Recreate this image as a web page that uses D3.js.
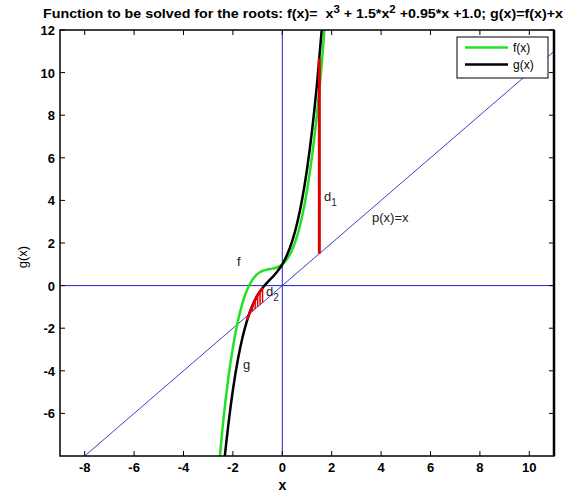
<!DOCTYPE html>
<html>
<head>
<meta charset="utf-8">
<script src="https://cdn.jsdelivr.net/npm/d3@7/dist/d3.min.js"></script>
<style>
  html, body { margin: 0; padding: 0; background: #fff; }
  svg { display: block; font-family: "Liberation Sans", Arial, sans-serif; }
</style>
</head>
<body>
<svg id="chart" width="568" height="492"></svg>
<script>
// Sample points of f(x) = x^3 + 1.5x^2 + 0.95x + 1 and g(x) = f(x) + x
const xSamples = [-2.6, -2.4, -2.2, -2.0, -1.8, -1.6, -1.4, -1.2, -1.0, -0.8, -0.6, -0.4, -0.2,
                  0, 0.2, 0.4, 0.6, 0.8, 1.0, 1.2, 1.4, 1.6, 1.8];
const fValues = [-8.906, -6.464, -4.478, -2.9, -1.682, -0.776, -0.134, 0.292, 0.55, 0.688, 0.754, 0.796, 0.862,
                 1.0, 1.258, 1.684, 2.326, 3.232, 4.45, 6.028, 8.014, 10.456, 13.402];
const gValues = [-11.506, -8.864, -6.678, -4.9, -3.482, -2.376, -1.534, -0.908, -0.45, -0.112, 0.154, 0.396, 0.662,
                 1.0, 1.458, 2.084, 2.926, 4.032, 5.45, 7.228, 9.414, 12.056, 15.202];

// Line p(x) = x across the whole window
const pLineX = [-9, 11];

// Distance d1 at x = 1.5, from p(x) up to g(x)
const d1X = [1.5];
const d1Low = [1.5];
const d1High = [10.675];

// Distances d2 near the root, from p(x) to g(x)
const d2X = [-1.3, -1.2, -1.1, -1.0, -0.9, -0.8];
const d2G = [-1.197, -0.908, -0.661, -0.45, -0.269, -0.112];
const d2EdgeX = [-1.42, -1.3, -1.2, -1.1, -1.0, -0.9, -0.8];
const d2EdgeG = [-1.607, -1.197, -0.908, -0.661, -0.45, -0.269, -0.112];

const xTicks = [-8, -6, -4, -2, 0, 2, 4, 6, 8, 10];
const yTicks = [-6, -4, -2, 0, 2, 4, 6, 8, 10, 12];
const legendLabels = ["f(x)", "g(x)"];

const svg = d3.select("#chart");
const plotLeft = 60, plotRight = 554, plotTop = 30, plotBottom = 456;

const x = d3.scaleLinear().domain([-9, 11]).range([plotLeft, plotRight]);
const y = d3.scaleLinear().domain([-8, 12]).range([plotBottom, plotTop]);

svg.append("defs").append("clipPath").attr("id", "plotClip")
  .append("rect").attr("x", plotLeft).attr("y", plotTop)
  .attr("width", plotRight - plotLeft).attr("height", plotBottom - plotTop);

// Title
const title = svg.append("text")
  .attr("x", 43).attr("y", 18)
  .attr("font-size", 12.5).attr("font-weight", "bold")
  .attr("textLength", 520).attr("lengthAdjust", "spacingAndGlyphs");
title.append("tspan").text("Function to be solved for the roots: f(x)=\u00a0 x");
title.append("tspan").attr("dy", -5).attr("font-size", 10).text("3");
title.append("tspan").attr("dy", 5).text(" + 1.5*x");
title.append("tspan").attr("dy", -5).attr("font-size", 10).text("2");
title.append("tspan").attr("dy", 5).text(" +0.95*x +1.0; g(x)=f(x)+x");

const plot = svg.append("g").attr("clip-path", "url(#plotClip)");

// Coordinate axes through the origin
plot.append("line").attr("x1", x(0)).attr("x2", x(0)).attr("y1", plotTop).attr("y2", plotBottom)
  .attr("stroke", "#2020d0").attr("stroke-width", 1);
plot.append("line").attr("x1", plotLeft).attr("x2", plotRight).attr("y1", y(0)).attr("y2", y(0))
  .attr("stroke", "#2020d0").attr("stroke-width", 1);

// p(x) = x
plot.append("line")
  .attr("x1", x(pLineX[0])).attr("y1", y(pLineX[0]))
  .attr("x2", x(pLineX[1])).attr("y2", y(pLineX[1]))
  .attr("stroke", "#4040c8").attr("stroke-width", 1);

const lineGen = d3.line().x(d => x(d[0])).y(d => y(d[1])).curve(d3.curveMonotoneX);

// f(x)
plot.append("path")
  .attr("d", lineGen(d3.zip(xSamples, fValues)))
  .attr("fill", "none").attr("stroke", "#22e022").attr("stroke-width", 2.5);

// g(x)
plot.append("path")
  .attr("d", lineGen(d3.zip(xSamples, gValues)))
  .attr("fill", "none").attr("stroke", "#000").attr("stroke-width", 2.5);

// d1
plot.selectAll(".d1").data(d3.zip(d1X, d1Low, d1High)).join("line")
  .attr("x1", d => x(d[0])).attr("x2", d => x(d[0]))
  .attr("y1", d => y(d[1])).attr("y2", d => y(d[2]))
  .attr("stroke", "#e00000").attr("stroke-width", 3);

// d2 hatching
plot.selectAll(".d2").data(d3.zip(d2X, d2G)).join("line")
  .attr("x1", d => x(d[0])).attr("x2", d => x(d[0]))
  .attr("y1", d => y(d[0])).attr("y2", d => y(d[1]))
  .attr("stroke", "#e00000").attr("stroke-width", 1.5);
plot.append("path")
  .attr("d", lineGen(d3.zip(d2EdgeX, d2EdgeG)))
  .attr("fill", "none").attr("stroke", "#e00000").attr("stroke-width", 2.5);

// Axes frame with inward ticks on all sides
const tickLen = 5;
const axisColor = "#000";
const frame = svg.append("g");
xTicks.forEach(t => {
  frame.append("line").attr("x1", x(t)).attr("x2", x(t)).attr("y1", plotBottom).attr("y2", plotBottom - tickLen)
    .attr("stroke", axisColor);
  frame.append("line").attr("x1", x(t)).attr("x2", x(t)).attr("y1", plotTop).attr("y2", plotTop + tickLen)
    .attr("stroke", axisColor);
  frame.append("text").attr("x", x(t)).attr("y", plotBottom + 16)
    .attr("text-anchor", "middle").attr("font-size", 13).attr("font-weight", "bold")
    .text(t);
});
yTicks.forEach(t => {
  frame.append("line").attr("x1", plotLeft).attr("x2", plotLeft + tickLen).attr("y1", y(t)).attr("y2", y(t))
    .attr("stroke", axisColor);
  frame.append("line").attr("x1", plotRight).attr("x2", plotRight - tickLen).attr("y1", y(t)).attr("y2", y(t))
    .attr("stroke", axisColor);
  frame.append("text").attr("x", plotLeft - 5).attr("y", y(t) + 5)
    .attr("text-anchor", "end").attr("font-size", 13).attr("font-weight", "bold")
    .text(t);
});
frame.append("rect").attr("x", plotLeft).attr("y", plotTop)
  .attr("width", plotRight - plotLeft).attr("height", plotBottom - plotTop)
  .attr("fill", "none").attr("stroke", axisColor).attr("stroke-width", 1.5);
frame.append("line").attr("x1", plotRight).attr("x2", plotRight).attr("y1", plotTop).attr("y2", plotBottom)
  .attr("stroke", axisColor).attr("stroke-width", 2.5);

// Axis labels
svg.append("text").attr("x", x(0)).attr("y", 490)
  .attr("text-anchor", "middle").attr("font-size", 14).attr("font-weight", "bold").text("x");
svg.append("text").attr("transform", `translate(27,${257}) rotate(-90)`)
  .attr("text-anchor", "middle").attr("font-size", 13).text("g(x)");

// Annotations
const note = (tx, ty, s) => svg.append("text").attr("x", tx).attr("y", ty)
  .attr("font-size", 13).attr("fill", "#222").text(s);
note(237, 266, "f");
note(243, 369, "g");
note(372, 222, "p(x)=x");
const dOne = note(324, 201, "d");
dOne.append("tspan").attr("dy", 5).attr("font-size", 10).text("1");
const dTwo = note(266, 296, "d");
dTwo.append("tspan").attr("dy", 5).attr("font-size", 10).text("2");

// Legend
const legend = svg.append("g");
legend.append("rect").attr("x", 457).attr("y", 37).attr("width", 91).attr("height", 41)
  .attr("fill", "#fff").attr("stroke", "#000").attr("stroke-width", 1);
const legendColors = ["#22e022", "#000"];
legendLabels.forEach((lab, i) => {
  const ly = 47.5 + i * 17;
  legend.append("line").attr("x1", 465).attr("x2", 508).attr("y1", ly).attr("y2", ly)
    .attr("stroke", legendColors[i]).attr("stroke-width", 2.5);
  legend.append("text").attr("x", 513).attr("y", ly + 4.5)
    .attr("font-size", 12).text(lab);
});
</script>
</body>
</html>
